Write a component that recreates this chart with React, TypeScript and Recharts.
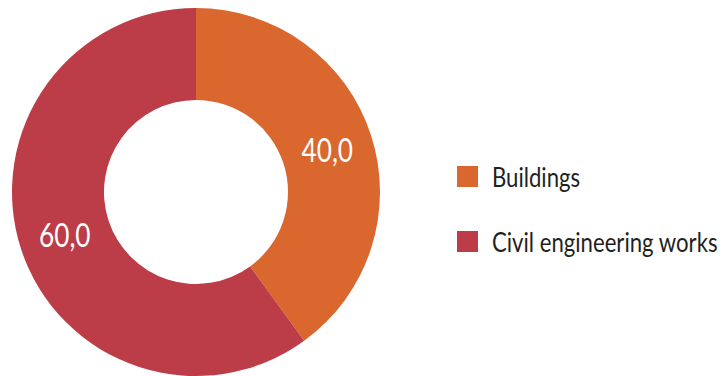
import { PieChart, Pie, Cell, Legend } from 'recharts';

const categories = ['Buildings', 'Civil engineering works'];
const shares = [40.0, 60.0];
const colors = ['#D9672E', '#BC3C48'];

const data = categories.map((name, i) => ({ name, value: shares[i] }));

const FONT = 'Lato, "DejaVu Sans", sans-serif';
const RAD = Math.PI / 180;
// the original uses a condensed face, squeeze glyphs horizontally
const SQUEEZE = 0.82;

// value label in the middle of the ring
const renderLabel = (props: any) => {
  const { cx, cy, midAngle, innerRadius, outerRadius, value } = props;
  const r = (innerRadius + outerRadius) / 2;
  const x = cx + r * Math.cos(-midAngle * RAD);
  const y = cy + r * Math.sin(-midAngle * RAD);
  return (
    <text
      x={0}
      y={0}
      transform={`translate(${x},${y}) scale(${SQUEEZE},1)`}
      fill="#ffffff"
      textAnchor="middle"
      dominantBaseline="central"
      fontFamily={FONT}
      fontSize={32}
    >
      {Number(value).toFixed(1).replace('.', ',')}
    </text>
  );
};

const renderLegend = () => (
  <div style={{ fontFamily: FONT }}>
    {categories.map((name, i) => (
      <div
        key={name}
        style={{ display: 'flex', alignItems: 'center', height: 26, marginBottom: i === 0 ? 39 : 0 }}
      >
        <span
          style={{
            width: 21,
            height: 21,
            flexShrink: 0,
            background: colors[i],
            display: 'inline-block',
            marginRight: 14,
          }}
        />
        <span
          style={{
            fontSize: 27,
            color: '#231f20',
            whiteSpace: 'nowrap',
            display: 'inline-block',
            transform: `scaleX(${SQUEEZE})`,
            transformOrigin: 'left center',
          }}
        >
          {name}
        </span>
      </div>
    ))}
  </div>
);

export default function App() {
  return (
    <div style={{ position: 'absolute', left: 0, top: 0, width: 725, height: 376, background: '#fff' }}>
      <PieChart width={725} height={376} margin={{ top: 0, right: 0, bottom: 0, left: 0 }}>
        <Pie
          data={data}
          dataKey="value"
          nameKey="name"
          cx={196}
          cy={192}
          innerRadius={92}
          outerRadius={184}
          startAngle={90}
          endAngle={-270}
          stroke="none"
          label={renderLabel}
          labelLine={false}
          isAnimationActive={false}
        >
          {data.map((d, i) => (
            <Cell key={d.name} fill={colors[i]} />
          ))}
        </Pie>
        <Legend
          content={renderLegend}
          layout="vertical"
          wrapperStyle={{ position: 'absolute', left: 457, top: 163, width: 268 }}
        />
      </PieChart>
    </div>
  );
}
